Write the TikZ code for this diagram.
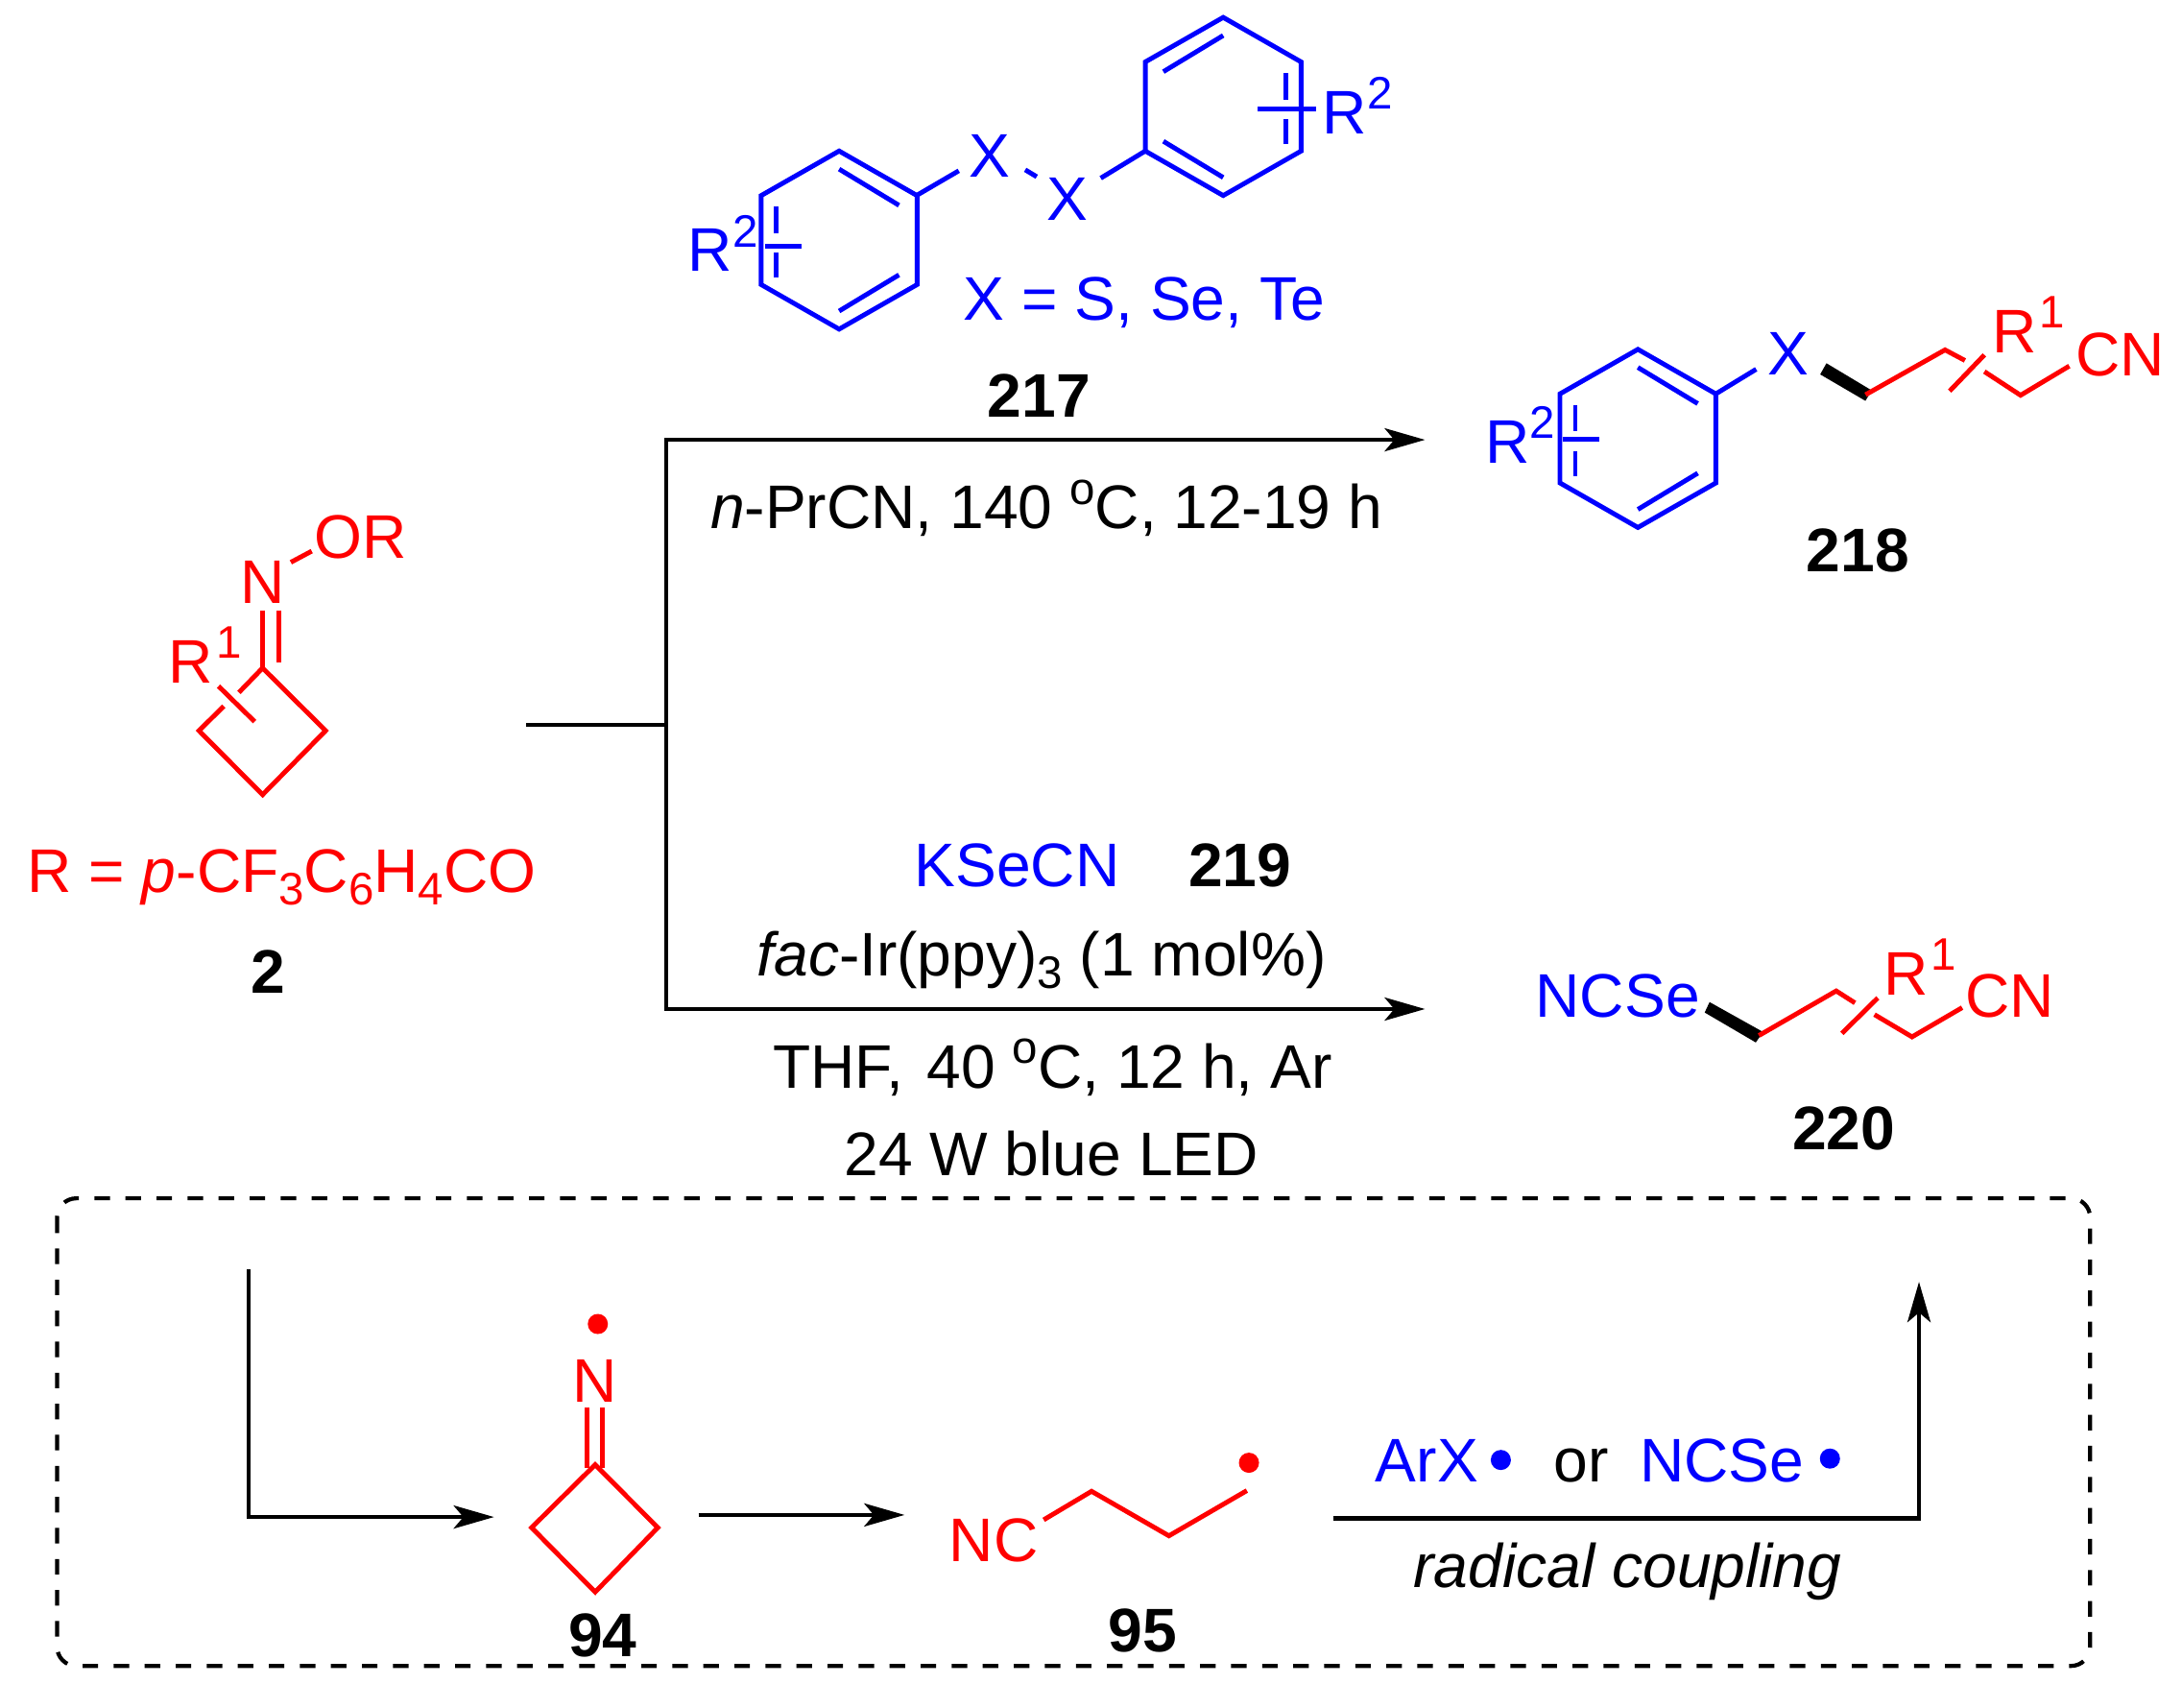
\documentclass[tikz,border=0pt]{standalone}
\usepackage{fontspec}
\setmainfont{Liberation Sans}
\usetikzlibrary{arrows.meta}
\definecolor{chemblue}{RGB}{0,0,255}
\definecolor{chemred}{RGB}{255,0,0}
\newcommand{\supr}[1]{\raisebox{.4em}{\fontsize{13.5}{14}\selectfont #1}}
\newcommand{\subr}[1]{\raisebox{-.2em}{\fontsize{13.5}{14}\selectfont #1}}
\tikzset{
  lbl/.style={inner sep=0pt,font=\fontsize{18.25}{20}\selectfont},
  lblw/.style={lbl,anchor=base west},
  lblc/.style={lbl,anchor=base},
  numsty/.style={lbl,anchor=base,font=\fontsize{18.25}{20}\selectfont\bfseries},
  bluesty/.style={color=chemblue},
  redsty/.style={color=chemred},
  bondsty/.style={line width=1.4pt,line join=miter},
  rxnsty/.style={line width=1.2pt,>={Stealth[length=4.2mm,width=2.4mm,inset=1mm]}},
  arring/.pic={
    \draw[bondsty,bluesty] (0,-64) -- (56,-32) -- (56,32) -- (0,64) -- (-56,32) -- (-56,-32) -- cycle;
    \draw[bondsty,bluesty] (0,-51) -- (43,-25);
    \draw[bondsty,bluesty] (43,25) -- (0,51);
    \draw[bondsty,bluesty] (-45,-24) -- (-45,-5);
    \draw[bondsty,bluesty] (-45,9) -- (-45,27);
  }
}
\begin{document}
\begin{tikzpicture}[x=.0145cm,y=-.0145cm]
  \useasboundingbox (0,0) rectangle (1568,1227);

  % substrate 2
  \draw[bondsty,redsty] (171.7,497.5) -- (188.7,480) -- (234,525) -- (188.7,571) -- (143,525) -- (160.8,507.4);
  \draw[bondsty,redsty] (157,493) -- (183,518.5);
  \draw[bondsty,redsty] (188.7,438.4) -- (188.7,480);
  \draw[bondsty,redsty] (200.4,438.4) -- (200.4,476);
  \draw[bondsty,redsty] (209,404) -- (224,396);
  \node[lbl,redsty] (imn) at (188.5,418) {N};
  \node[lbl,redsty] (oxr) at (259,386) {OR};
  \node[lblw,redsty] (rone) at (120.5,490.6) {R\kern1pt\supr{1}};
  \node[lblc,redsty] (rdef) at (202.5,641) {R = \textit{p}-CF\subr{3}C\subr{6}H\subr{4}CO};
  \node[numsty] (ntwo) at (193,713.5) {2};

  % reagent 217
  \pic at (603,172.5) {arring};
  \pic[xscale=-1] at (879,76.5) {arring};
  \node[lbl,bluesty] (xa) at (711,112) {X};
  \node[lbl,bluesty] (xb) at (767,143) {X};
  \draw[bondsty,bluesty] (658.7,140.4) -- (689,122.7);
  \draw[bondsty,bluesty] (736.7,122) -- (745,127);
  \draw[bondsty,bluesty] (791,128) -- (823,108.5);
  \draw[bondsty,bluesty] (550,177) -- (576,177);
  \draw[bondsty,bluesty] (904,78) -- (946,78);
  \node[lblw,bluesty] (rtwoa) at (494,195) {R\supr{2}};
  \node[lblw,bluesty] (rtwob) at (950,96) {R\supr{2}};
  \node[lblw,bluesty] (xdef) at (692,230) {X = S, Se, Te};
  \node[numsty] (n217) at (746.6,300) {217};

  % reaction arrows
  \coordinate (split) at (378,521);
  \coordinate (junc) at (479,521);
  \coordinate (upp) at (479,316);
  \coordinate (low) at (479,725);
  \coordinate (uppend) at (1024,316);
  \coordinate (lowend) at (1024,725);
  \draw[rxnsty] (split) -- (junc);
  \draw[rxnsty,line cap=rect] (upp) -- (low);
  \draw[rxnsty,->] (upp) -- (uppend);
  \draw[rxnsty,->] (low) -- (lowend);
  \node[lblc] (condup) at (752,380) {\textit{n}-PrCN, 140 \supr{o}C, 12-19 h};
  \node[lblc,bluesty] (ksecn) at (731,637) {KSeCN};
  \node[numsty] (n219) at (891,637) {219};
  \node[lblc] (conda) at (748.5,701.5) {\textit{fac}-Ir(ppy)\subr{3} (1 mol\%)};
  \node[lblc] (condb) at (756.5,782) {THF,\kern2pt\ 40 \supr{o}C, 12 h, Ar};
  \node[lblc] (condc) at (755.5,845) {24 W blue LED};

  % product 218
  \pic at (1177,315) {arring};
  \draw[bondsty,bluesty] (1232,283.6) -- (1262,265.3);
  \draw[bondsty,bluesty] (1123,315.5) -- (1149,315.5);
  \node[lblw,bluesty] (rtwoc) at (1067,332.7) {R\supr{2}};
  \node[lbl,bluesty] (xc) at (1285,254.5) {X};
  \fill (1312.5,261) -- (1308,269) -- (1340.5,288) -- (1345,280.5) -- cycle;
  \draw[bondsty,redsty] (1340.6,283.6) -- (1397.7,251.4) -- (1412,259);
  \draw[bondsty,redsty] (1401,281) -- (1426,255);
  \draw[bondsty,redsty] (1426,267) -- (1452,284) -- (1487,263);
  \node[lblw,redsty] (ronea) at (1431,253.6) {R\kern1pt\supr{1}};
  \node[lblw,redsty] (cna) at (1491,270) {CN};
  \node[numsty] (n218) at (1335,411) {218};

  % product 220
  \node[lblw,bluesty] (ncse) at (1103,731) {NCSe};
  \fill (1228.5,720) -- (1225,727.5) -- (1261.7,749) -- (1267,741.5) -- cycle;
  \draw[bondsty,redsty] (1264,744) -- (1319.5,712) -- (1333,720.6);
  \draw[bondsty,redsty] (1323.6,742.5) -- (1349.4,717);
  \draw[bondsty,redsty] (1347,729) -- (1374,745) -- (1410,724);
  \node[lblw,redsty] (roneb) at (1353,715) {R\kern1pt\supr{1}};
  \node[lblw,redsty] (cnb) at (1412,731) {CN};
  \node[numsty] (n220) at (1325,826) {220};

  % dashed box
  \draw[line width=1.2pt,dash pattern=on 4.6pt off 4.6pt,rounded corners=.2cm] (41,861) rectangle (1502,1197);

  % intermediates
  \coordinate (mecha) at (178.5,912);
  \coordinate (mechb) at (178.5,1090);
  \coordinate (mechc) at (355,1090);
  \draw[rxnsty,->] (mecha) -- (mechb) -- (mechc);
  \draw[bondsty,redsty] (427.7,1052.4) -- (472.7,1097.6) -- (427.7,1143.9) -- (382,1097.6) -- cycle;
  \draw[bondsty,redsty] (421.9,1011.6) -- (421.9,1055);
  \draw[bondsty,redsty] (433,1011.6) -- (433,1055);
  \node[lbl,redsty] (imr) at (427.5,992) {N};
  \fill[redsty] (429.6,951.3) circle [radius=.105cm];
  \node[numsty] (n94) at (433,1190.5) {94};
  \coordinate (stepa) at (502,1088.5);
  \coordinate (stepb) at (650,1088.5);
  \draw[rxnsty,->] (stepa) -- (stepb);
  \node[lbl,redsty] (nc) at (714,1106.5) {NC};
  \draw[bondsty,redsty] (750,1092) -- (784.4,1071.5) -- (840,1103.5) -- (896,1071);
  \fill[redsty] (897.5,1051) circle [radius=.105cm];
  \node[numsty] (n95) at (821,1187) {95};
  \coordinate (coupa) at (958,1091);
  \coordinate (coupb) at (1379,1091);
  \coordinate (coupc) at (1379,921);
  \draw[rxnsty,->] (coupa) -- (coupb) -- (coupc);
  \node[lblw,bluesty] (arx) at (988,1064.5) {ArX};
  \fill[bluesty] (1078.5,1049) circle [radius=.105cm];
  \node[lblw] (orr) at (1116,1064.5) {or};
  \node[lblw,bluesty] (ncseb) at (1178,1064.5) {NCSe};
  \fill[bluesty] (1315,1048) circle [radius=.105cm];
  \node[lblc] (radc) at (1169.6,1140.5) {\textit{radical coupling}};
\end{tikzpicture}
\end{document}
